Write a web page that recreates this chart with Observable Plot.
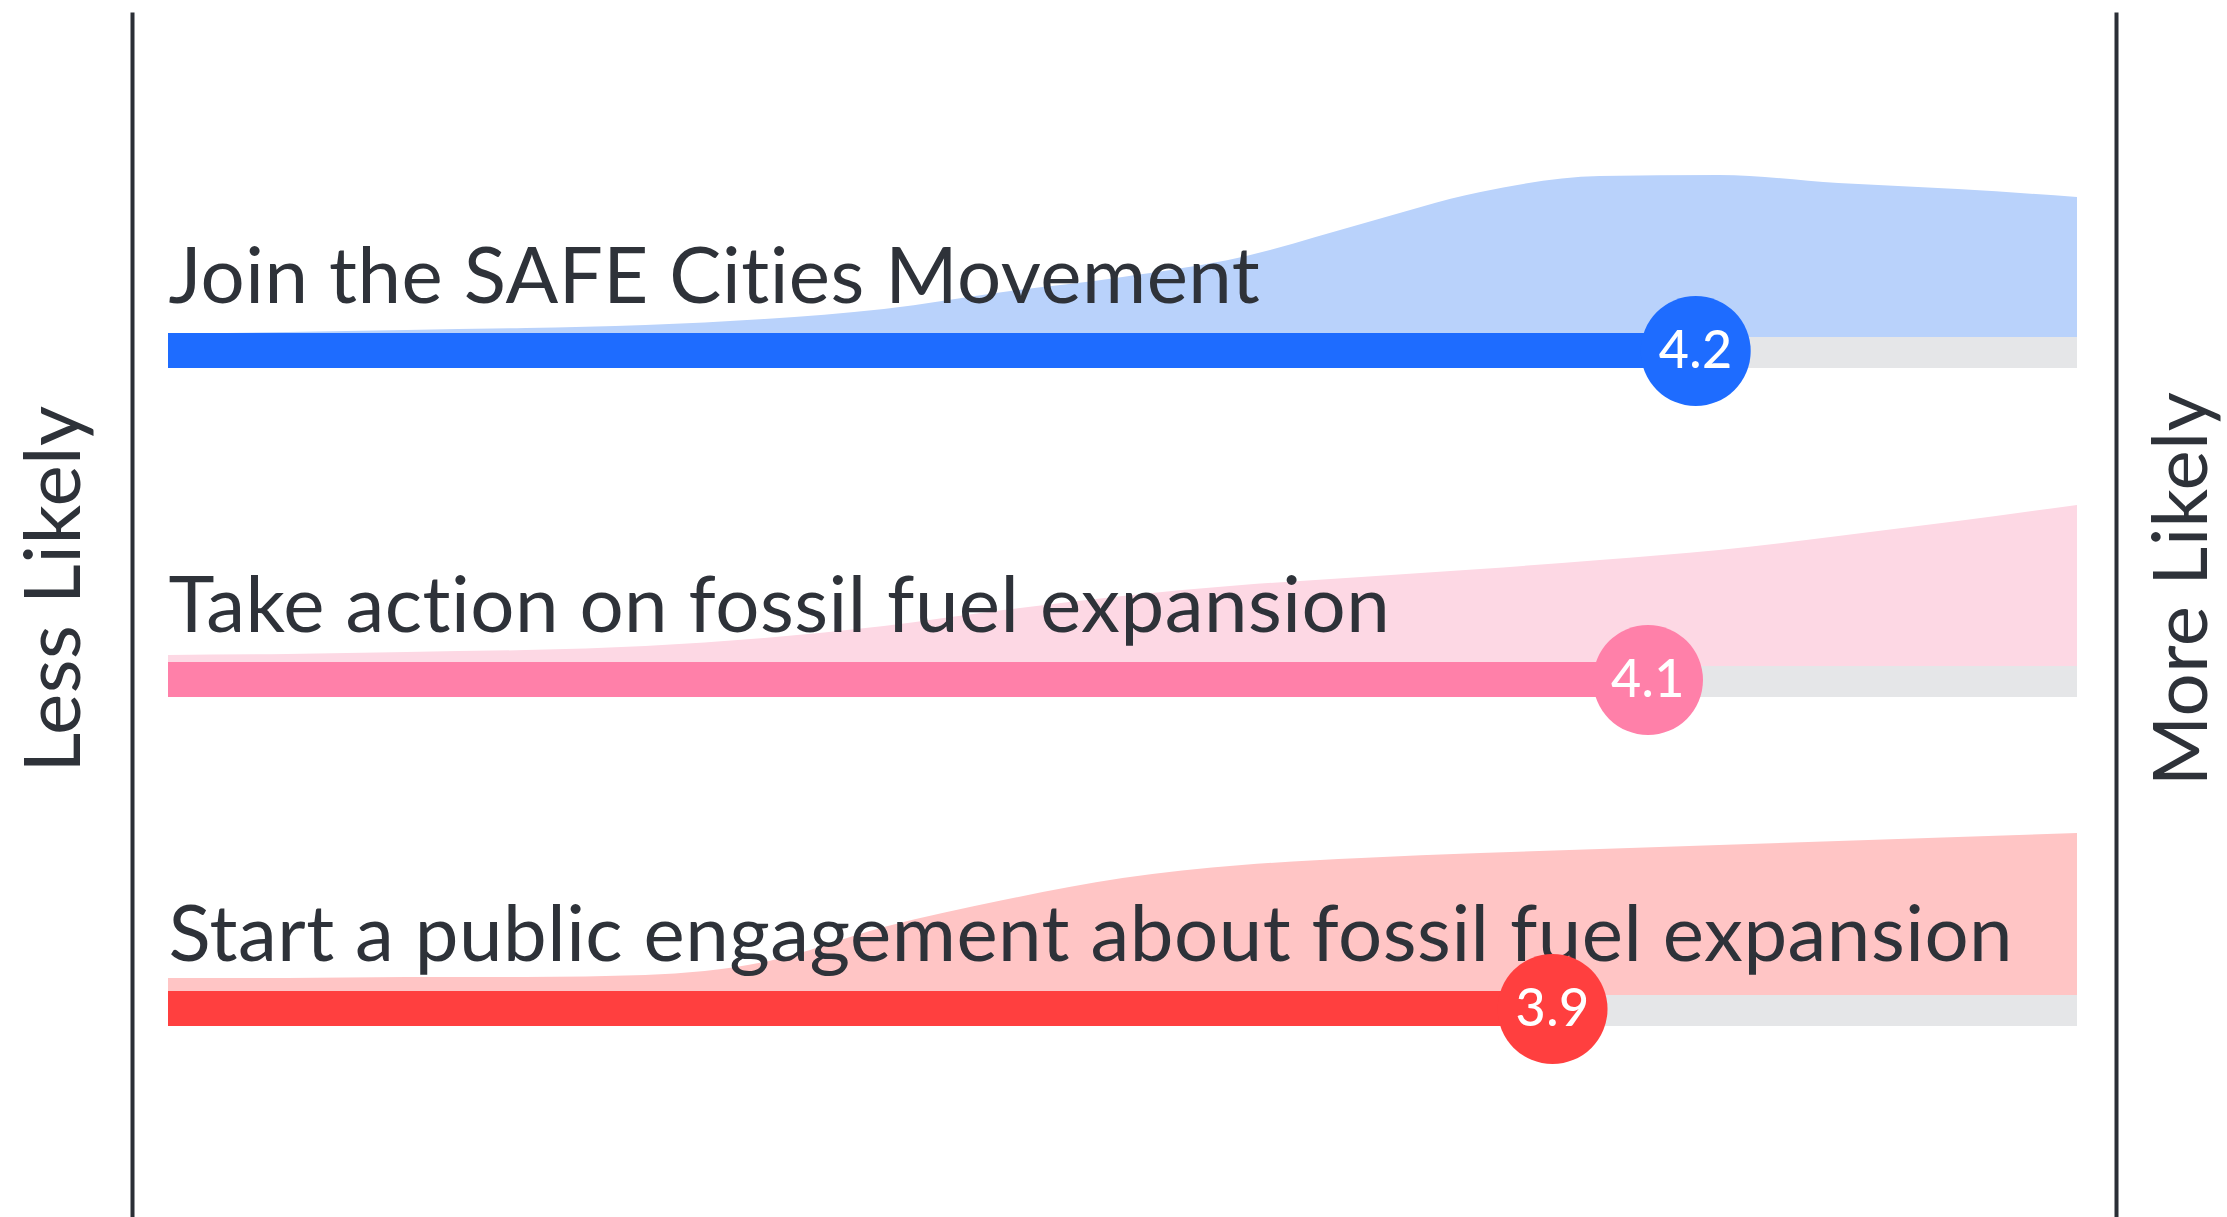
<!DOCTYPE html>
<html>
<head>
<meta charset="utf-8">
<script src="https://cdn.jsdelivr.net/npm/d3@7"></script>
<script src="https://cdn.jsdelivr.net/npm/@observablehq/plot@0.6"></script>
<style>
  html, body { margin: 0; padding: 0; background: #ffffff; }
  #chart svg { display: block; }
  #chart svg text { letter-spacing: 0.5px; }
</style>
</head>
<body>
<div id="chart"></div>
<script>
// ---------------- data ----------------
const categories = [
  "Join the SAFE Cities Movement",
  "Take action on fossil fuel expansion",
  "Start a public engagement about fossil fuel expansion"
];
const meanScores = [4.2, 4.1, 3.9];
const scoreRange = [1, 5];
const endLabels = ["Less Likely", "More Likely"];

// response distribution (relative density) at these scores
const likelihood = [1, 1.25, 1.5, 1.75, 2, 2.25, 2.5, 2.75, 3, 3.25, 3.5, 3.75, 4, 4.25, 4.5, 4.75, 5];
const densityJoin  = [3, 5, 7, 9, 12, 18, 28, 45, 60, 80, 113, 145, 161, 162, 154, 148, 140];
const densityTake  = [11, 12, 14, 16, 20, 28, 40, 56, 70, 81, 89, 97, 106, 116, 130, 145, 161];
const densityStart = [17, 17, 18, 18, 20, 33, 68, 95, 117, 130, 137, 142, 146, 150, 154, 158, 162];

// ---------------- styles & layout ----------------
const W = 2227, H = 1217;
const margin = {top: 14, right: 111, bottom: 0, left: 132};
const xRange = [168, 2077];
const rowPitch = 329, firstTrackBottom = 368;
const trackH = 31, barH = 35, labelGap = 31;
const barColors  = ["#1e6cff", "#ff80a9", "#ff3f3f"];
const areaColors = ["#b9d2fb", "#fdd8e4", "#ffc5c5"];
const trackColor = "#e5e6e8";
const textColor = "#2e3239";
const lineColor = "#2b2f36";
const font = "Lato";

const densities = [densityJoin, densityTake, densityStart];
const rows = categories.map((category, i) => ({category, mean: meanScores[i], i}));

const trackBottom = d => firstTrackBottom + d.i * rowPitch;
const trackTop = d => trackBottom(d) - trackH;
const barTop = d => trackBottom(d) - barH;
const barMid = d => trackBottom(d) - barH / 2;
const labelBase = d => barTop(d) - labelGap;

const marks = [];
rows.forEach((r, i) => {
  const pts = likelihood.map((s, j) => ({score: s, density: densities[i][j], i}));
  marks.push(Plot.areaY(pts, {
    x: "score",
    y1: d => trackTop(d),
    y2: d => trackTop(d) - d.density,
    fill: areaColors[i],
    curve: "monotone-x"
  }));
});

marks.push(
  Plot.rect(rows, {x1: () => scoreRange[0], x2: () => scoreRange[1], y1: trackTop, y2: trackBottom, fill: trackColor}),
  Plot.rect(rows, {x1: () => scoreRange[0], x2: "mean", y1: barTop, y2: trackBottom, fill: d => barColors[d.i]}),
  Plot.text(rows, {
    x: () => scoreRange[0], y: labelBase, text: "category",
    textAnchor: "start", lineAnchor: "bottom", fontSize: 78, fill: textColor
  }),
  Plot.dot(rows, {x: "mean", y: barMid, r: 55, fill: d => barColors[d.i], stroke: null}),
  Plot.text(rows, {
    x: "mean", y: barMid, text: d => d.mean.toFixed(1),
    fill: "white", fontSize: 52, fontWeight: 500
  }),
  Plot.frame({anchor: "left", stroke: lineColor, strokeWidth: 4}),
  Plot.frame({anchor: "right", stroke: lineColor, strokeWidth: 4}),
  Plot.text([endLabels[0]], {
    frameAnchor: "left", text: d => d, rotate: -90, dx: -77, dy: -27,
    textAnchor: "middle", lineAnchor: "middle",
    fontSize: 78, fill: textColor
  }),
  Plot.text([endLabels[1]], {
    frameAnchor: "right", text: d => d, rotate: -90, dx: 66, dy: -27,
    textAnchor: "middle", lineAnchor: "middle",
    fontSize: 76, fill: textColor
  })
);

const chart = Plot.plot({
  width: W,
  height: H,
  marginTop: margin.top,
  marginRight: margin.right,
  marginBottom: margin.bottom,
  marginLeft: margin.left,
  style: {fontFamily: font, background: "#ffffff", color: textColor},
  x: {domain: scoreRange, range: xRange, axis: null},
  y: {domain: [0, H], range: [0, H], axis: null},
  color: {type: "identity"},
  marks
});
document.getElementById("chart").appendChild(chart);
</script>
</body>
</html>
